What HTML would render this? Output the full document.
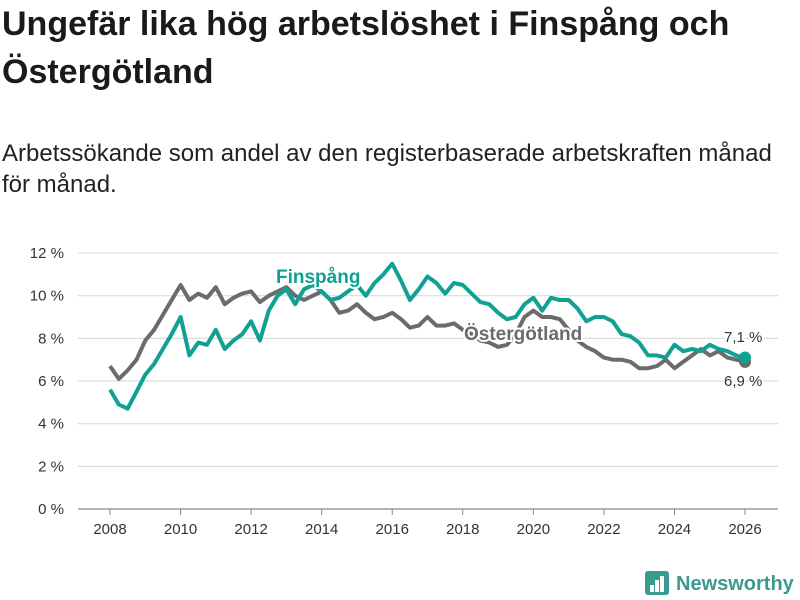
<!DOCTYPE html>
<html><head><meta charset="utf-8"><style>
body{margin:0;width:800px;height:600px;background:#fff;font-family:"Liberation Sans","DejaVu Sans",sans-serif;color:#222;overflow:hidden;position:relative}
h1{position:absolute;left:2px;top:0px;margin:0;font-size:34px;line-height:48px;font-weight:bold;color:#1a1a1a;width:790px}
.sub{position:absolute;left:2px;top:138px;font-size:24px;line-height:31px;color:#222;width:775px}
svg{position:absolute;left:0;top:0}
</style></head><body>
<h1>Ungefär lika hög arbetslöshet i Finspång och Östergötland</h1>
<div class="sub">Arbetssökande som andel av den registerbaserade arbetskraften månad för månad.</div>
<svg id="chart" width="800" height="600"></svg>
<script>
const yearsStart=2008, step=0.25;
const ostValues=[6.7,6.1,6.5,7.0,7.9,8.4,9.1,9.8,10.5,9.8,10.1,9.9,10.4,9.6,9.9,10.1,10.2,9.7,10.0,10.2,10.4,10.0,9.8,10.0,10.2,9.8,9.2,9.3,9.6,9.2,8.9,9.0,9.2,8.9,8.5,8.6,9.0,8.6,8.6,8.7,8.4,8.2,7.9,7.8,7.6,7.7,8.2,9.0,9.3,9.0,9.0,8.9,8.4,7.9,7.6,7.4,7.1,7.0,7.0,6.9,6.6,6.6,6.7,7.0,6.6,6.9,7.2,7.5,7.2,7.4,7.1,7.0,6.9];
const finValues=[5.6,4.9,4.7,5.5,6.3,6.8,7.5,8.2,9.0,7.2,7.8,7.7,8.4,7.5,7.9,8.2,8.8,7.9,9.3,10.0,10.3,9.6,10.3,10.5,10.2,9.8,9.9,10.2,10.5,10.0,10.6,11.0,11.5,10.7,9.8,10.3,10.9,10.6,10.1,10.6,10.5,10.1,9.7,9.6,9.2,8.9,9.0,9.6,9.9,9.3,9.9,9.8,9.8,9.4,8.8,9.0,9.0,8.8,8.2,8.1,7.8,7.2,7.2,7.1,7.7,7.4,7.5,7.4,7.7,7.5,7.4,7.2,7.1];
const yTicks=[0,2,4,6,8,10,12];
const yTickLabels=["0 %","2 %","4 %","6 %","8 %","10 %","12 %"];
const xTicks=[2008,2010,2012,2014,2016,2018,2020,2022,2024,2026];
const endLabels=["7,1 %","6,9 %"];
const NS="http://www.w3.org/2000/svg";
const svg=document.getElementById('chart');
const X=t=>110+(t-2008)*35.28;
const Y=v=>509-v*21.33;
function mk(tag,attrs,parent){const e=document.createElementNS(NS,tag);for(const k in attrs)e.setAttribute(k,attrs[k]);(parent||svg).appendChild(e);return e;}
yTicks.forEach((v,i)=>{
  const l=mk('line',{x1:78,x2:778,y1:Y(v),y2:Y(v),stroke:v===0?'#888':'#ddd','stroke-width':1.2});
  
  
  const t=mk('text',{x:64,y:Y(v)+5,'text-anchor':'end','font-size':15,fill:'#333'});
  t.textContent=yTickLabels[i];
  
  
});
xTicks.forEach(yr=>{
  mk('line',{x1:X(yr),x2:X(yr),y1:509,y2:515,stroke:'#888'});
  const t=mk('text',{x:X(yr),y:534,'text-anchor':'middle','font-size':15,fill:'#333'});
  t.textContent=yr;
  
  
});
function series(vals,color,name){
  const d=vals.map((v,i)=>(i?'L':'M')+X(yearsStart+i*step).toFixed(1)+','+Y(v).toFixed(1)).join('');
  const p=mk('path',{d:d,fill:'none',stroke:color,'stroke-width':4,'stroke-linejoin':'round'});
  
  
  const n=vals.length-1;
  const c=mk('circle',{cx:X(yearsStart+n*step),cy:Y(vals[n]),r:6,fill:color});
  
  
}
series(ostValues,'#6b6b6b','ostergotland-line');
series(finValues,'#10a193','finspang-line');
function lab(txt,x,y,color,name,size,weight){
  const t=mk('text',{x:x,y:y,'font-size':size,'font-weight':weight,fill:color,stroke:'#fff','stroke-width':4,'paint-order':'stroke'});
  t.textContent=txt;
  
  
}
lab('Finspång',276,283,'#10a193','finspang-label',19,'bold');
lab('Östergötland',464,340,'#6b6b6b','ostergotland-label',19,'bold');
lab(endLabels[0],724,342,'#333','finspang-end-label',15,'normal');
lab(endLabels[1],724,386,'#333','ostergotland-end-label',15,'normal');
const g=mk('g',{});


mk('rect',{x:645,y:571,width:24,height:24,rx:3,fill:'#3a9a8f'},g);
[[650,585,4,7],[655,580,4,12],[660,576,4,16]].forEach(r=>mk('rect',{x:r[0],y:r[1],width:r[2],height:r[3],fill:'#fff'},g));
const lt=mk('text',{x:676,y:590,'font-size':20,'font-weight':'bold',fill:'#3a9a8f'},g);
lt.textContent='Newsworthy';
</script>
</body></html>
